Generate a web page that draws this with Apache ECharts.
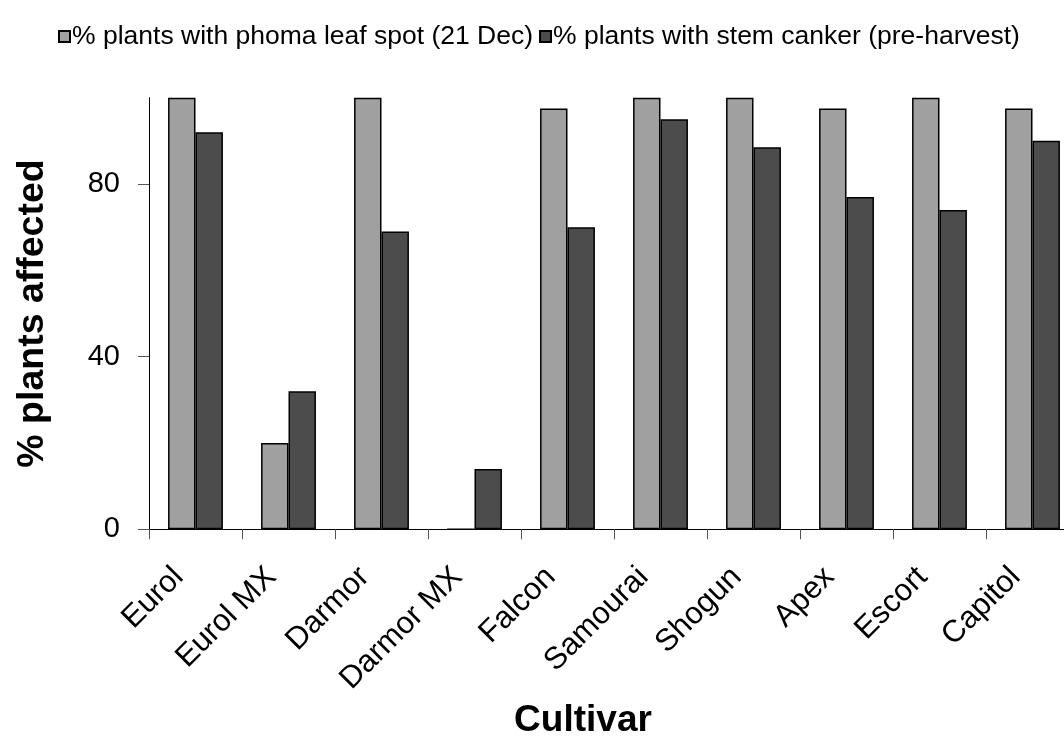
<!DOCTYPE html>
<html>
<head>
<meta charset="utf-8">
<script src="https://cdn.jsdelivr.net/npm/echarts@6/dist/echarts.min.js"></script>
<style>
html,body{margin:0;padding:0;background:#fff;}
#chart{width:1064px;height:749px;}
</style>
</head>
<body>
<div id="chart"></div>
<script>
const categories = ['Eurol','Eurol MX','Darmor','Darmor MX','Falcon','Samourai','Shogun','Apex','Escort','Capitol'];
const leafSpotName = '% plants with phoma leaf spot (21 Dec)';
const cankerName = '% plants with stem canker (pre-harvest)';
const leafSpot = [100, 20, 100, 0, 97.5, 100, 100, 97.5, 100, 97.5];
const canker = [92, 32, 69, 14, 70, 95, 88.5, 77, 74, 90];
const yTicks = [0, 40, 80];

const font = 'Liberation Sans, Arial, sans-serif';
const chart = echarts.init(document.getElementById('chart'), null, {renderer: 'canvas'});
chart.setOption({
  animation: false,
  backgroundColor: '#fff',
  textStyle: {fontFamily: font},
  legend: {
    top: 18,
    left: 53,
    itemWidth: 11,
    itemHeight: 11,
    itemGap: 6,
    icon: 'rect',
    textStyle: {fontFamily: font, fontSize: 26.5, color: '#000', padding: [0, 0, 0, -3]},
    data: [leafSpotName, cankerName]
  },
  grid: {left: 149, top: 97.7, height: 431.6, width: 930, containLabel: false, outerBoundsMode: 'none'},
  xAxis: {
    type: 'category',
    data: categories,
    name: 'Cultivar',
    nameLocation: 'middle',
    nameGap: 173,
    nameTextStyle: {fontFamily: font, fontSize: 37, fontWeight: 'bold', color: '#000', padding: [0, 62, 0, 0]},
    axisLine: {lineStyle: {color: '#000', width: 1}},
    axisTick: {show: true, length: 10, lineStyle: {color: '#555'}},
    axisLabel: {rotate: 45, margin: 26, fontFamily: font, fontSize: 31, color: '#000', interval: 0, padding: [0, 24, 0, 0]}
  },
  yAxis: {
    type: 'value',
    min: 0,
    max: 100,
    interval: 40,
    name: '% plants affected',
    nameLocation: 'middle',
    nameGap: 97,
    nameRotate: 90,
    nameTextStyle: {fontFamily: font, fontSize: 37.5, fontWeight: 'bold', color: '#000'},
    splitLine: {show: false},
    axisLine: {show: true, lineStyle: {color: '#000', width: 1}},
    axisTick: {show: true, length: 11, customValues: yTicks, lineStyle: {color: '#555'}},
    axisLabel: {margin: 29, fontFamily: font, fontSize: 29, color: '#000', customValues: yTicks}
  },
  series: [
    {
      name: leafSpotName,
      type: 'bar',
      data: leafSpot,
      barGap: '0%',
      barCategoryGap: '41%',
      itemStyle: {color: '#A0A0A0', borderColor: '#000', borderWidth: 1.5}
    },
    {
      name: cankerName,
      type: 'bar',
      data: canker,
      barGap: '0%',
      barCategoryGap: '41%',
      itemStyle: {color: '#4C4C4C', borderColor: '#000', borderWidth: 1.5}
    }
  ]
});
</script>
</body>
</html>
